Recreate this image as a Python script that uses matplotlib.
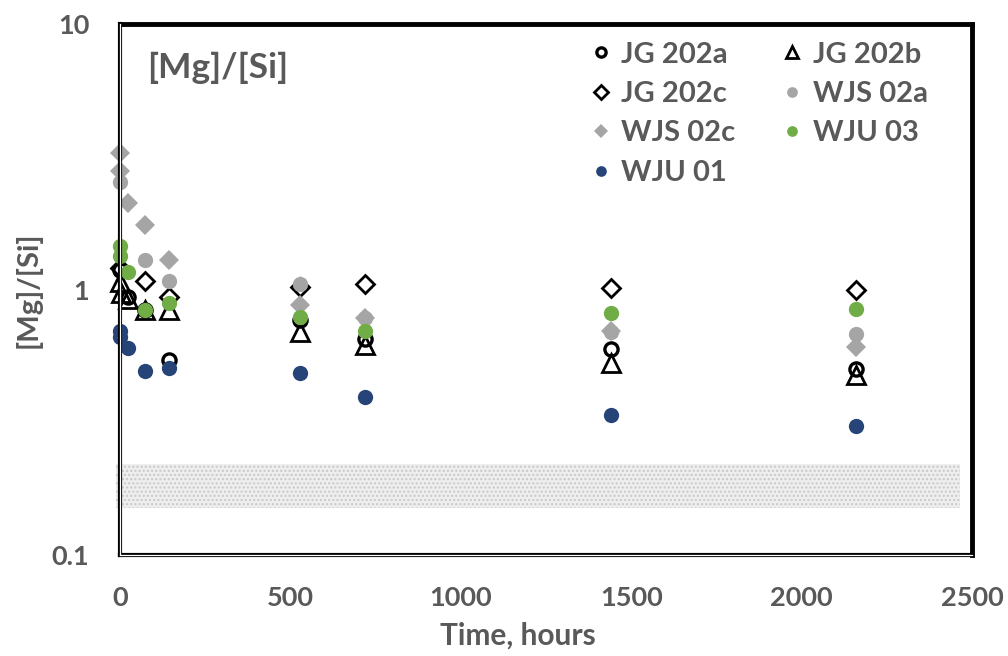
import matplotlib.pyplot as plt
import numpy as np

plt.rcParams['font.family'] = ['Lato', 'DejaVu Sans']
plt.rcParams['font.weight'] = 'bold'

txt = '#595959'

# time in hours, ratio [Mg]/[Si]
t_jg202a = [1, 24, 72, 144, 528, 720, 1440, 2160]
v_jg202a = [1.18, 0.94, 0.84, 0.544, 0.77, 0.653, 0.597, 0.50]

t_jg202b = [0, 3, 24, 72, 144, 528, 720, 1440, 2160]
v_jg202b = [1.07, 0.974, 0.917, 0.84, 0.84, 0.689, 0.62, 0.53, 0.478]

t_jg202c = [0, 72, 144, 528, 720, 1440, 2160]
v_jg202c = [1.2, 1.072, 0.941, 1.026, 1.053, 1.009, 0.994]

t_wjs02a = [1, 72, 144, 528, 720, 1440, 2160]
v_wjs02a = [2.53, 1.286, 1.072, 1.05, 0.78, 0.69, 0.677]

t_wjs02c = [0, 1, 24, 72, 144, 528, 720, 1440, 2160]
v_wjs02c = [3.26, 2.79, 2.11, 1.744, 1.286, 0.878, 0.784, 0.695, 0.609]

t_wju03 = [1, 0, 24, 72, 144, 528, 720, 1440, 2160]
v_wju03 = [1.453, 1.34, 1.159, 0.84, 0.893, 0.791, 0.70, 0.819, 0.848]

t_wju01 = [1, 0, 24, 72, 144, 528, 720, 1440, 2160]
v_wju01 = [0.695, 0.665, 0.604, 0.495, 0.505, 0.486, 0.395, 0.336, 0.307]

band_lo, band_hi = 0.15, 0.22

fig = plt.figure(figsize=(10.08, 6.56), dpi=100)
ax = fig.add_axes([120/1008, 1-555/656, 852/1008, 531/656])

ax.fill_between([-12, 2465], band_lo, band_hi, facecolor='#eeeeee',
                edgecolor='#c8c8c8', hatch='....', linewidth=0, zorder=0,
                clip_on=False)

h = {}
h['JG 202a'], = ax.plot(t_jg202a, v_jg202a, 'o', ms=9.5, mfc='none', mec='black', mew=2.4)
h['JG 202b'], = ax.plot(t_jg202b, v_jg202b, '^', ms=13, mfc='none', mec='black', mew=2)
h['JG 202c'], = ax.plot(t_jg202c, v_jg202c, 'D', ms=9.5, mfc='none', mec='black', mew=2)
h['WJS 02a'], = ax.plot(t_wjs02a, v_wjs02a, 'o', ms=11, color='#a5a5a5', mew=0)
h['WJS 02c'], = ax.plot(t_wjs02c, v_wjs02c, 'D', ms=10.5, color='#a5a5a5', mew=0)
h['WJU 03'], = ax.plot(t_wju03, v_wju03, 'o', ms=11, color='#70ad47', mew=0)
h['WJU 01'], = ax.plot(t_wju01, v_wju01, 'o', ms=11, color='#264478', mew=0)
for ln in h.values():
    ln.set_clip_on(False)

ax.set_yscale('log')
ax.set_ylim(0.1, 10)
ax.set_xlim(0, 2500)
ax.set_yticks([0.1, 1, 10])
ax.set_yticklabels(['0.1', '1', '10'])
ax.yaxis.set_minor_locator(plt.NullLocator())
ax.set_xticks([0, 500, 1000, 1500, 2000, 2500])
ax.tick_params(length=0, labelsize=19.5, labelcolor=txt)
ax.tick_params(axis='x', pad=22)
ax.tick_params(axis='y', pad=22)

for s in ['top', 'right']:
    ax.spines[s].set_linewidth(3.5)
for s in ['left', 'bottom']:
    ax.spines[s].set_linewidth(3)
ax.plot([0, 0], [0, 1], transform=ax.transAxes, color='white', lw=0.9,
        clip_on=False, zorder=3)
ax.plot([0, 1], [0, 0], transform=ax.transAxes, color='white', lw=0.9,
        clip_on=False, zorder=3)

fig.text(518/1008, 1-636/656, 'Time, hours', fontsize=21.5, color=txt,
         ha='center', va='center')
fig.text(28/1008, 1-290/656, '[Mg]/[Si]', fontsize=21, color=txt,
         ha='center', va='center', rotation=90)
fig.text(147/1008, 1-68/656, '[Mg]/[Si]', fontsize=25.5, color=txt,
         ha='left', va='center')

order = ['JG 202a', 'JG 202c', 'WJS 02c', 'WJU 01', 'JG 202b', 'WJS 02a', 'WJU 03']
ax.legend([h[k] for k in order], order, ncol=2, frameon=False,
          loc='upper left', bbox_to_anchor=(576/1008, 1-27/656),
          bbox_transform=fig.transFigure, fontsize=21, labelcolor=txt,
          markerscale=0.7, handlelength=0.7, handletextpad=0.35,
          columnspacing=1.6, labelspacing=0.46, borderpad=0)

fig.savefig('out.png', dpi=100)
